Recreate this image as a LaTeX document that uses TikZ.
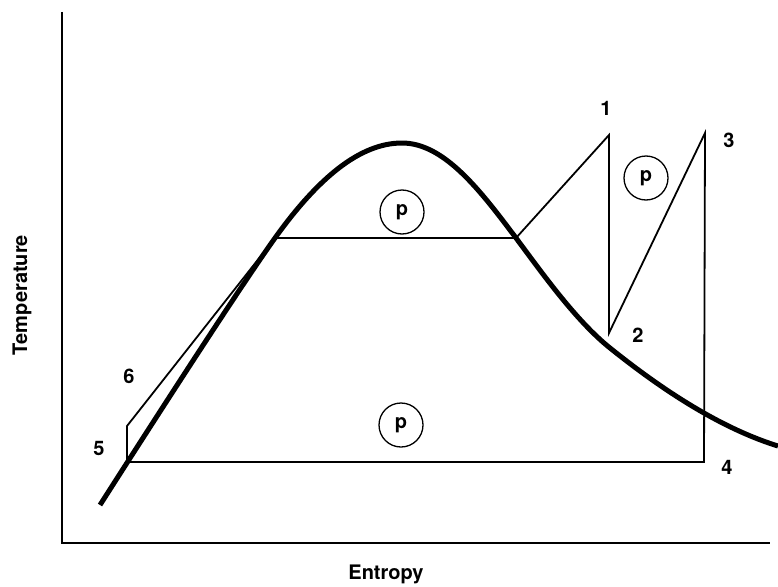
\documentclass[tikz,border=0pt]{standalone}
\usepackage{fontspec}
\setmainfont{TeX Gyre Heros}
\usepackage{tikz}
\usetikzlibrary{positioning,calc}

\begin{document}
\begin{tikzpicture}[x=1pt,y=-1pt,every node/.style={font=\fontsize{20}{24}\selectfont\bfseries},
  thin line/.style={line width=1.8pt,line join=miter},
  dome/.style={line width=5pt,line cap=butt},
  pcircle/.style={draw,circle,line width=1.3pt,minimum size=44pt,inner sep=0pt}]
\useasboundingbox (0,0) rectangle (778,586);
% axes
\draw[line width=2pt] (62,12) -- (62,543) -- (770,543);
\node[rotate=90] (tlabel) at (22,295) {Temperature};
\node (slabel) at (386,574) {Entropy};
% cycle points
\coordinate (s1) at (609,135);
\coordinate (s2) at (609,333);
\coordinate (s3) at (705,133);
\coordinate (s4) at (704,462);
\coordinate (s5) at (127,462);
\coordinate (s6) at (127,426);
\coordinate (evap) at (275,238);
\coordinate (sat) at (516,238);
\coordinate (top) at (402,143);
% saturation dome
\draw[dome] (100,505) .. controls (130,458) and (235,294) .. (evap)
  .. controls (318,178) and (360,143) .. (top)
  .. controls (444,143) and (480,190) .. (sat)
  .. controls (540,270) and (575,320) .. (610,348)
  .. controls (645,376) and (710,425) .. (778,446);
\draw[thin line] (s5) -- (s6) -- (evap) -- (sat) -- (s1) -- (s2) -- (s3) -- (s4) -- (s5);
% state labels
\node (l1) at (606,108) {1};
\node (l2) at (638,335) {2};
\node (l3) at (729,140) {3};
\node (l4) at (727,467) {4};
\node (l5) at (99,448) {5};
\node (l6) at (129,376) {6};
% pressure circles
\node[pcircle] (p1) at (402,212) {p};
\node[pcircle] (p2) at (646,178) {p};
\node[pcircle] (p3) at (401,425) {p};
\end{tikzpicture}
\end{document}
